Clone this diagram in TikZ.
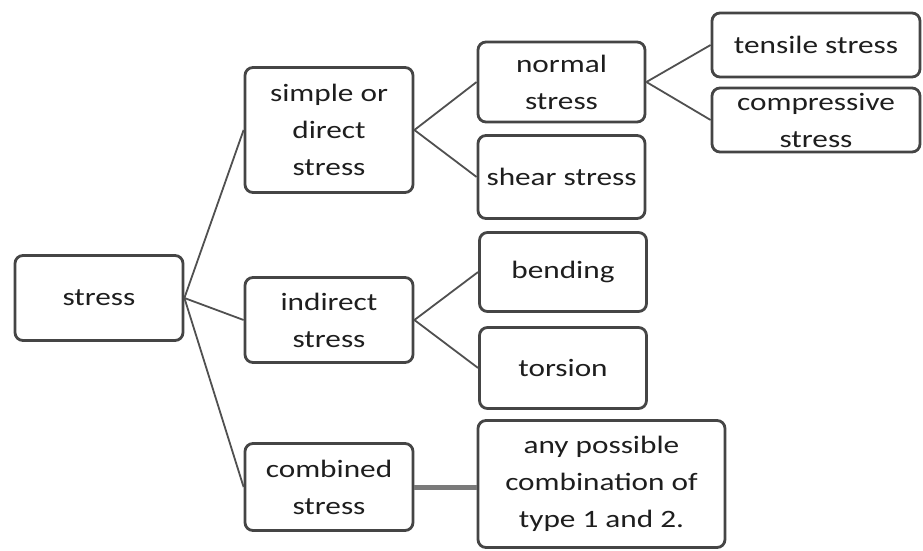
\documentclass[tikz,border=0pt]{standalone}
\usepackage{fontspec}
\setmainfont[FakeStretch=1.25]{Carlito}
\definecolor{boxline}{HTML}{454545}
\definecolor{conn}{HTML}{505050}
\definecolor{thickconn}{HTML}{7A7A7A}
\definecolor{txt}{HTML}{1E1E1E}
\begin{document}
\begin{tikzpicture}[x=1pt,y=-1pt,
  box/.style={draw=boxline, line width=2.8pt, rounded corners=8pt, fill=white,
    inner sep=0pt, align=center, text=txt,
    font=\fontsize{25}{37}\selectfont},
  link/.style={draw=conn, line width=1.8pt},
  thicklink/.style={draw=thickconn, line width=5pt}]
\useasboundingbox[fill=white] (0,0) rectangle (923,551);
\node[box, minimum width=168pt, minimum height=85pt] (stress) at (99,298) {stress};
\node[box, minimum width=168pt, minimum height=125pt] (simple) at (329,130) {simple or\\direct\\stress};
\node[box, minimum width=168pt, minimum height=85pt] (indirect) at (329,320) {indirect\\stress};
\node[box, minimum width=168pt, minimum height=87pt] (combined) at (329,487) {combined\\stress};
\node[box, minimum width=167pt, minimum height=80pt] (normal) at (561.5,82) {normal\\stress};
\node[box, minimum width=167pt, minimum height=83pt] (shear) at (561.5,177) {shear stress};
\node[box, minimum width=167pt, minimum height=79pt] (bending) at (563,272) {bending};
\node[box, minimum width=167pt, minimum height=81pt] (torsion) at (563,368) {torsion};
\node[box, minimum width=247pt, minimum height=127pt] (any) at (601.5,484) {any possible\\combination of\\type 1 and 2.};
\node[box, minimum width=208pt, minimum height=64pt] (tensile) at (816,45) {tensile stress};
\node[box, minimum width=208pt, minimum height=64pt] (compressive) at (816,120) {compressive\\stress};
\coordinate (anyin) at (any.west |- combined.east);
\draw[link] (stress.east) -- (simple.west);
\draw[link] (stress.east) -- (indirect.west);
\draw[link] (stress.east) -- (combined.west);
\draw[link] (simple.east) -- (normal.west);
\draw[link] (simple.east) -- (shear.west);
\draw[link] (normal.east) -- (tensile.west);
\draw[link] (normal.east) -- (compressive.west);
\draw[link] (indirect.east) -- (bending.west);
\draw[link] (indirect.east) -- (torsion.west);
\draw[thicklink] (combined.east) -- (anyin);
\end{tikzpicture}
\end{document}
